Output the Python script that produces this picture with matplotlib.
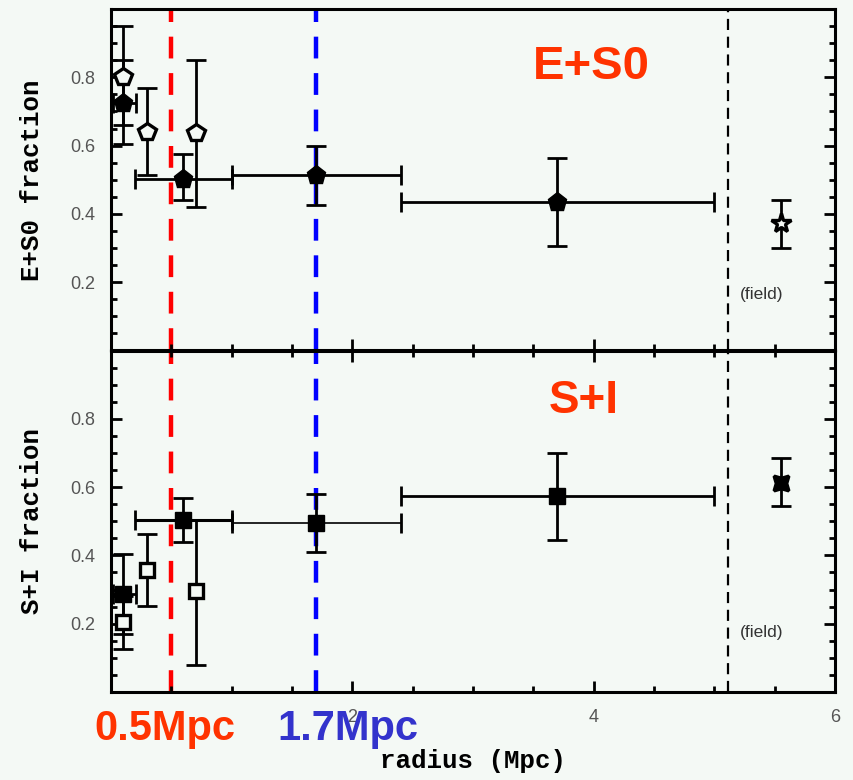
import matplotlib
matplotlib.use("Agg")
import matplotlib.pyplot as plt
from matplotlib.ticker import MultipleLocator

# Cluster sample, radial bins (Mpc)
r_bin = [0.10, 0.60, 1.70, 3.70]
r_bin_lo = [0.02, 0.20, 1.00, 2.40]
r_bin_hi = [0.21, 1.00, 2.40, 5.00]

es0_frac = [0.725, 0.503, 0.515, 0.434]
es0_lo = [0.605, 0.440, 0.427, 0.305]
es0_hi = [0.850, 0.574, 0.600, 0.565]

si_frac = [0.288, 0.505, 0.494, 0.575]
si_lo = [0.170, 0.440, 0.410, 0.444]
si_hi = [0.404, 0.568, 0.580, 0.699]

# Comparison clusters (open symbols)
r_cmp = [0.10, 0.295, 0.705]
es0_cmp = [0.800, 0.640, 0.637]
es0_cmp_lo = [0.660, 0.513, 0.420]
es0_cmp_hi = [0.950, 0.768, 0.850]
si_cmp = [0.206, 0.358, 0.297]
si_cmp_lo = [0.125, 0.251, 0.080]
si_cmp_hi = [0.280, 0.462, 0.505]

# Field values
r_field = [5.55]
es0_field = [0.373]
es0_field_lo = [0.300]
es0_field_hi = [0.441]
si_field = [0.612]
si_field_lo = [0.544]
si_field_hi = [0.686]

# Reference radii and the cluster/field divide
r_inner = 0.5
r_outer = 1.7
r_field_edge = 5.11

x_ticks = [0, 2, 4, 6]
x_tick_labels = ["", "2", "4", "6"]
y_ticks = [0.2, 0.4, 0.6, 0.8]
y_tick_labels = ["0.2", "0.4", "0.6", "0.8"]

BG = "#f4f9f5"
ORANGE = "#ff3300"
BLUE = "#3333cc"
MONO = ["Liberation Mono", "DejaVu Sans Mono"]
SANS = ["Liberation Sans", "DejaVu Sans"]

fig = plt.figure(figsize=(8.54, 7.8), dpi=100, facecolor=BG)
W, H = 854.0, 780.0
x0, x1 = 111.0, 835.0
ax_top = fig.add_axes([x0 / W, 1 - 350.5 / H, (x1 - x0) / W, (350.5 - 9) / H])
ax_bot = fig.add_axes([x0 / W, 1 - 692 / H, (x1 - x0) / W, (692 - 350.5) / H])


def asym(vals, lo, hi):
    return [[v - l for v, l in zip(vals, lo)], [h - v for v, h in zip(vals, hi)]]


def style_axes(ax, show_xlabels, top_ticks):
    ax.set_facecolor(BG)
    ax.set_xlim(0, 6)
    ax.set_ylim(0, 1.0)
    for s in ax.spines.values():
        s.set_linewidth(2.2)
        s.set_color("black")
    ax.set_xticks(x_ticks)
    ax.xaxis.set_minor_locator(MultipleLocator(0.5))
    ax.set_yticks(y_ticks)
    ax.set_yticklabels(y_tick_labels)
    ax.yaxis.set_minor_locator(MultipleLocator(0.05))
    ax.tick_params(which="both", direction="in", top=top_ticks, right=True,
                   width=2.0, colors="black", labelcolor="#555555")
    ax.tick_params(which="major", length=8)
    ax.tick_params(which="minor", length=4.5)
    ax.tick_params(axis="y", labelsize=13, pad=11)
    ax.tick_params(axis="x", labelsize=13, pad=12)
    if show_xlabels:
        ax.set_xticklabels(x_tick_labels)
    else:
        ax.set_xticklabels([])
    for lab in ax.get_xticklabels() + ax.get_yticklabels():
        lab.set_fontfamily(SANS)


def draw_panel(ax, frac, lo, hi, cmp_v, cmp_lo, cmp_hi, fld, fld_lo, fld_hi,
               filled_marker, filled_ms, open_ms, field_marker, field_face,
               hbar_lw):
    # boundary lines
    ax.axvline(r_inner, color="#ff0000", lw=3.2, dashes=(4.9, 3.3), zorder=1)
    ax.axvline(r_outer, color="#0000ff", lw=3.2, dashes=(4.9, 3.3), zorder=1)
    ax.axvline(r_field_edge, color="black", lw=1.6, dashes=(5.0, 3.0), zorder=1)

    # cluster bins: radial extent and fraction uncertainty
    for i in range(len(r_bin)):
        ax.errorbar([r_bin[i]], [frac[i]],
                    xerr=[[r_bin[i] - r_bin_lo[i]], [r_bin_hi[i] - r_bin[i]]],
                    fmt="none", ecolor="black", elinewidth=hbar_lw[i],
                    capsize=7, capthick=2.0, zorder=3)
        ax.errorbar([r_bin[i]], [frac[i]],
                    yerr=[[frac[i] - lo[i]], [hi[i] - frac[i]]],
                    fmt="none", ecolor="black", elinewidth=2.0,
                    capsize=7, capthick=2.0, zorder=3)
    ax.errorbar(r_cmp, cmp_v, yerr=asym(cmp_v, cmp_lo, cmp_hi), fmt="none",
                ecolor="black", elinewidth=2.0, capsize=7, capthick=2.0, zorder=3)
    ax.errorbar(r_field, fld, yerr=asym(fld, fld_lo, fld_hi), fmt="none",
                ecolor="black", elinewidth=2.0, capsize=7, capthick=2.0, zorder=3)

    ax.plot(r_cmp, cmp_v, ls="none", marker=filled_marker, ms=open_ms,
            mfc=BG, mec="black", mew=2.4, zorder=4)
    ax.plot(r_bin, frac, ls="none", marker=filled_marker, ms=filled_ms,
            mfc="black", mec="black", mew=1.0, zorder=5)
    ax.plot(r_field, fld, ls="none", marker=field_marker, ms=15,
            mfc=field_face, mec="black", mew=2.4, zorder=5)


draw_panel(ax_top, es0_frac, es0_lo, es0_hi, es0_cmp, es0_cmp_lo, es0_cmp_hi,
           es0_field, es0_field_lo, es0_field_hi, "p", 14, 13, "*", BG,
           [2.0, 2.0, 2.0, 2.0])
draw_panel(ax_bot, si_frac, si_lo, si_hi, si_cmp, si_cmp_lo, si_cmp_hi,
           si_field, si_field_lo, si_field_hi, "s", 11.5, 10.5, (4, 1, 45), "black",
           [2.0, 2.2, 1.2, 2.0])

style_axes(ax_top, show_xlabels=False, top_ticks=False)
style_axes(ax_bot, show_xlabels=True, top_ticks=True)

# panel titles and field notes
ax_top.text(3.98, 0.794, "E+S0", color=ORANGE, fontsize=34, fontweight="bold",
            family=SANS, ha="center", va="baseline", zorder=6)
ax_bot.text(3.92, 0.818, "S+I", color=ORANGE, fontsize=33, fontweight="bold",
            family=SANS, ha="center", va="baseline", zorder=6)
ax_top.text(5.21, 0.15, "(field)", color="#333333", fontsize=12.5, family=SANS,
            ha="left", va="baseline")
ax_bot.text(5.21, 0.16, "(field)", color="#333333", fontsize=12.5, family=SANS,
            ha="left", va="baseline")

# axis titles
fig.text(0.038, 1 - 180 / H, "E+S0 fraction", rotation=90, fontsize=18.5,
         fontweight="bold", family=MONO, ha="center", va="center")
fig.text(0.038, 1 - 521 / H, "S+I fraction", rotation=90, fontsize=18.5,
         fontweight="bold", family=MONO, ha="center", va="center")
fig.text(473 / W, 1 - 768 / H, "radius (Mpc)", fontsize=18.5, fontweight="bold",
         family=MONO, ha="center", va="baseline")

# radius annotations below the axis
fig.text(94 / W, 1 - 740 / H, f"{r_inner}Mpc", color=ORANGE, fontsize=30,
         fontweight="bold", family=SANS, ha="left", va="baseline", zorder=10)
fig.text(277 / W, 1 - 740 / H, f"{r_outer}Mpc", color=BLUE, fontsize=30,
         fontweight="bold", family=SANS, ha="left", va="baseline", zorder=10)

fig.savefig("out.png", dpi=100, facecolor=BG)
